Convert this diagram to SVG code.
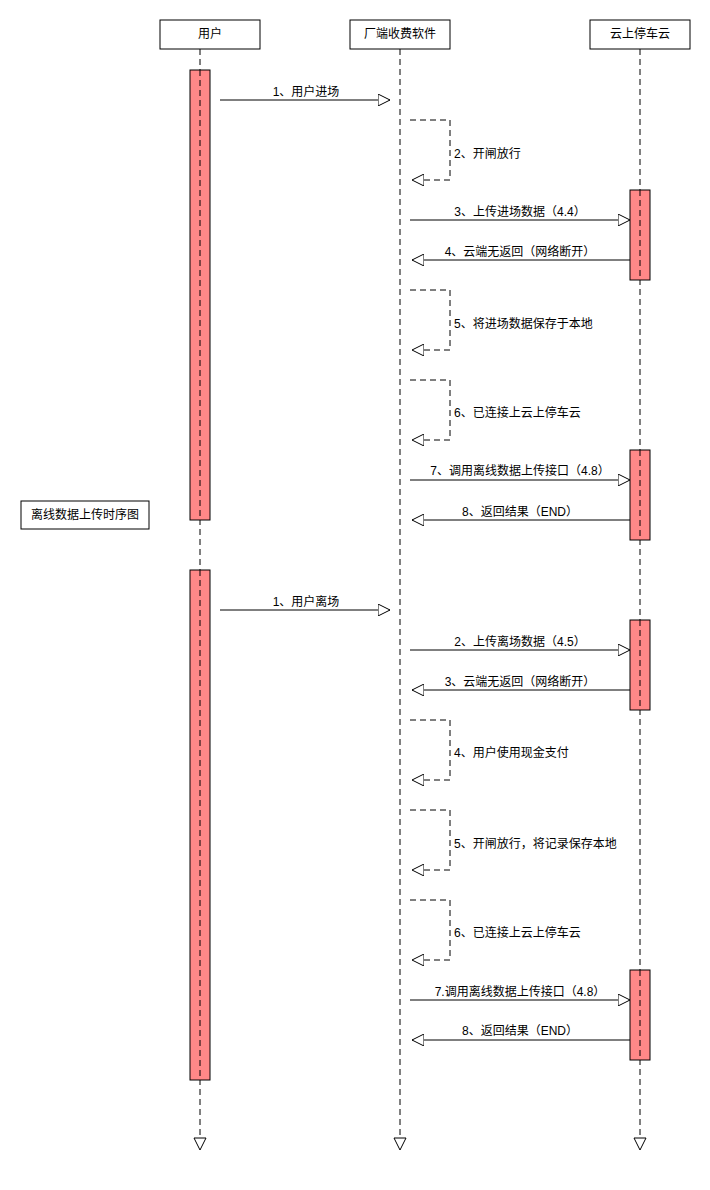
<svg xmlns="http://www.w3.org/2000/svg" width="710" height="1190" viewBox="0 0 710 1190">
<style>
text{font-family:"Liberation Sans","Noto Sans CJK SC",sans-serif;font-size:12px;fill:#000}
.box{fill:#fff;stroke:#000;stroke-width:1}
.act{fill:#f88;stroke:#000;stroke-width:1}
.life{stroke:#000;stroke-dasharray:6 4;fill:none}
.msg{stroke:#000;fill:none;marker-end:url(#ar)}
.self{stroke:#000;fill:none;stroke-dasharray:6 4;marker-end:url(#ar)}
</style>
<defs>
<marker id="ar" markerWidth="14" markerHeight="12" refX="12" refY="6" orient="auto" markerUnits="userSpaceOnUse">
<path d="M0,0 L12,6 L0,12 Z" fill="#fff" stroke="#000"/>
</marker>
</defs>
<rect width="710" height="1190" fill="#fff"/>
<g id="lifelines">
<path class="life" d="M200,49 V1138 M400,49 V1138 M640,49 V1138"/>
<path d="M194,1138 L206,1138 L200,1150 Z M394,1138 L406,1138 L400,1150 Z M634,1138 L646,1138 L640,1150 Z" fill="#fff" stroke="#000"/>
</g>
<g id="user"><rect class="box" x="160" y="20" width="100" height="29"/><text x="210" y="38" text-anchor="middle">用户</text></g>
<g id="factory"><rect class="box" x="350" y="20" width="100" height="29"/><text x="400" y="38" text-anchor="middle">厂端收费软件</text></g>
<g id="cloud"><rect class="box" x="590" y="20" width="100" height="29"/><text x="640" y="38" text-anchor="middle">云上停车云</text></g>
<g id="title"><rect class="box" x="21" y="501" width="128" height="28"/><text x="85" y="519" text-anchor="middle">离线数据上传时序图</text></g>
<g id="activations">
<rect class="act" x="190" y="70" width="20" height="450"/>
<rect class="act" x="190" y="570" width="20" height="510"/>
<rect class="act" x="630" y="190" width="20" height="90"/>
<rect class="act" x="630" y="450" width="20" height="90"/>
<rect class="act" x="630" y="620" width="20" height="90"/>
<rect class="act" x="630" y="970" width="20" height="90"/>
<path class="life" d="M200,70 V520 M200,570 V1080 M640,190 V280 M640,450 V540 M640,620 V710 M640,970 V1060"/>
</g>
<g id="connectors">
<path class="msg" d="M220,100 H390"/>
<path class="self" d="M410,120 H450 V180 H412"/>
<path class="msg" d="M410,220 H630"/>
<path class="msg" d="M630,260 H412"/>
<path class="self" d="M410,290 H450 V350 H412"/>
<path class="self" d="M410,380 H450 V440 H412"/>
<path class="msg" d="M410,480 H630"/>
<path class="msg" d="M630,520 H412"/>
<path class="msg" d="M220,610 H390"/>
<path class="msg" d="M410,650 H630"/>
<path class="msg" d="M630,690 H412"/>
<path class="self" d="M410,720 H450 V780 H412"/>
<path class="self" d="M410,810 H450 V870 H412"/>
<path class="self" d="M410,900 H450 V960 H412"/>
<path class="msg" d="M410,1000 H630"/>
<path class="msg" d="M630,1040 H412"/>
</g>
<g id="labels">
<text x="306" y="96" text-anchor="middle">1、用户进场</text>
<text x="454" y="158">2、开闸放行</text>
<text x="520" y="216" text-anchor="middle">3、上传进场数据（4.4）</text>
<text x="520" y="256" text-anchor="middle">4、云端无返回（网络断开）</text>
<text x="454" y="328">5、将进场数据保存于本地</text>
<text x="454" y="417">6、已连接上云上停车云</text>
<text x="520" y="475" text-anchor="middle">7、调用离线数据上传接口（4.8）</text>
<text x="520" y="516" text-anchor="middle">8、返回结果（END）</text>
<text x="306" y="606" text-anchor="middle">1、用户离场</text>
<text x="520" y="646" text-anchor="middle">2、上传离场数据（4.5）</text>
<text x="520" y="686" text-anchor="middle">3、云端无返回（网络断开）</text>
<text x="454" y="757">4、用户使用现金支付</text>
<text x="454" y="848">5、开闸放行，将记录保存本地</text>
<text x="454" y="937">6、已连接上云上停车云</text>
<text x="520" y="996" text-anchor="middle">7.调用离线数据上传接口（4.8）</text>
<text x="520" y="1035" text-anchor="middle">8、返回结果（END）</text>
</g>
</svg>
